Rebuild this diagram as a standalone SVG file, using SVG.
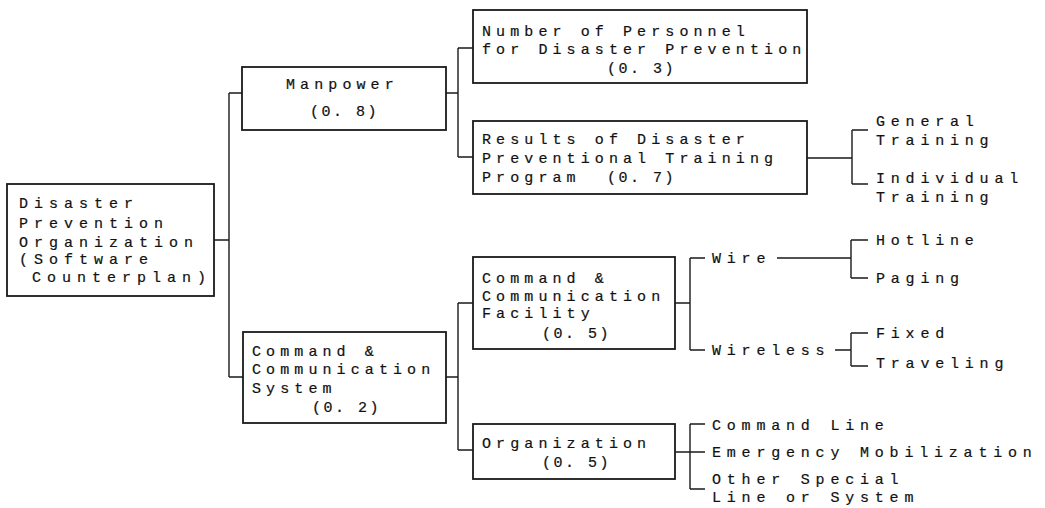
<svg xmlns="http://www.w3.org/2000/svg" width="1045" height="508" viewBox="0 0 1045 508">
<style>
rect.box{fill:#fff;stroke:#1a1a1a;stroke-width:1.8}
.con path{fill:none;stroke:#1a1a1a;stroke-width:1.4}
text{font-family:"Liberation Mono","DejaVu Sans Mono",monospace;font-size:15px;fill:#111;stroke:#111;stroke-width:0.2}
.r{letter-spacing:6px}
.b{letter-spacing:5.1px}
.l{letter-spacing:5.8px}
.n{letter-spacing:2.5px}
</style>
<g class="con" id="connectors">
<path d="M214,240 H229 M229,93 V377 M229,93 H242 M229,377 H243"/>
<path d="M446,93 H458 M458,48 V157 M458,48 H473 M458,157 H473"/>
<path d="M446,377 H458 M458,303 V450 M458,303 H473 M458,450 H473"/>
<path d="M807,158 H852 M852,130 V184 M852,130 H868 M852,184 H868"/>
<path d="M675,303 H690 M690,258 V350 M690,258 H705 M690,350 H705"/>
<path d="M777,258 H851 M851,240 V278 M851,240 H868 M851,278 H868"/>
<path d="M835,350 H851 M851,333 V366 M851,333 H868 M851,366 H868"/>
<path d="M675,452 H705 M690,424 V489 M690,424 H705 M690,489 H705"/>
</g>
<g id="root">
<rect class="box" x="7" y="184" width="207" height="112"/>
<text class="r" x="19" y="208">Disaster</text>
<text class="r" x="19" y="228">Prevention</text>
<text class="r" x="19" y="247">Organization</text>
<text class="r" x="19" y="264">(Software</text>
<text class="r" x="32" y="282">Counterplan)</text>
</g>
<g id="manpower">
<rect class="box" x="242" y="67" width="204" height="63"/>
<text class="b" x="286" y="89">Manpower</text>
<text class="n" x="310" y="116">(0. 8)</text>
</g>
<g id="system">
<rect class="box" x="243" y="332" width="203" height="91"/>
<text class="b" x="252" y="356">Command &amp;</text>
<text class="b" x="252" y="374">Communication</text>
<text class="b" x="252" y="393">System</text>
<text class="n" x="312" y="412">(0. 2)</text>
</g>
<g id="personnel">
<rect class="box" x="473" y="10" width="334" height="73"/>
<text class="b" x="482" y="36">Number of Personnel</text>
<text class="b" x="482" y="54">for Disaster Prevention</text>
<text class="n" x="607" y="73">(0. 3)</text>
</g>
<g id="training">
<rect class="box" x="473" y="121" width="334" height="73"/>
<text class="b" x="482" y="144">Results of Disaster</text>
<text class="b" x="482" y="163">Preventional Training</text>
<text class="b" x="482" y="182">Program</text>
<text class="n" x="607" y="182">(0. 7)</text>
</g>
<g id="general-training">
<text class="l" x="876" y="126">General</text>
<text class="l" x="876" y="145">Training</text>
</g>
<g id="individual-training">
<text class="l" x="876" y="183">Individual</text>
<text class="l" x="876" y="202">Training</text>
</g>
<g id="facility">
<rect class="box" x="473" y="257" width="202" height="92"/>
<text class="b" x="482" y="283">Command &amp;</text>
<text class="b" x="482" y="301">Communication</text>
<text class="b" x="482" y="318">Facility</text>
<text class="n" x="542" y="338">(0. 5)</text>
</g>
<g id="wire"><text class="l" x="712" y="263">Wire</text></g>
<g id="wireless"><text class="l" x="712" y="355">Wireless</text></g>
<g id="hotline"><text class="l" x="876" y="245">Hotline</text></g>
<g id="paging"><text class="l" x="876" y="283">Paging</text></g>
<g id="fixed"><text class="l" x="876" y="338">Fixed</text></g>
<g id="traveling"><text class="l" x="876" y="368">Traveling</text></g>
<g id="organization">
<rect class="box" x="473" y="424" width="202" height="55"/>
<text class="b" x="482" y="448">Organization</text>
<text class="n" x="542" y="467">(0. 5)</text>
</g>
<g id="command-line"><text class="l" x="712" y="430">Command Line</text></g>
<g id="emergency"><text class="l" x="712" y="457">Emergency Mobilization</text></g>
<g id="other">
<text class="l" x="712" y="484">Other Special</text>
<text class="l" x="712" y="502">Line or System</text>
</g>
</svg>
